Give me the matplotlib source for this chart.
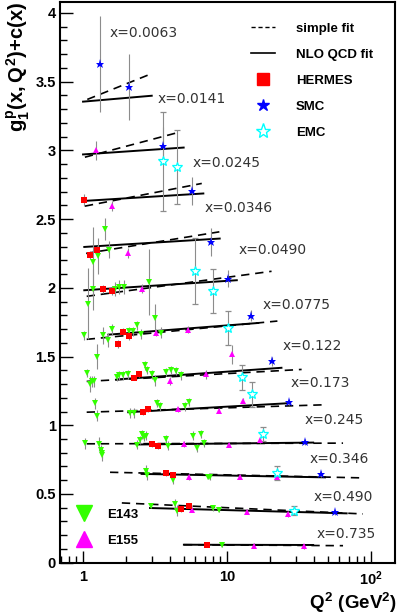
import numpy as np
import matplotlib
matplotlib.use("Agg")
import matplotlib.pyplot as plt
from matplotlib.lines import Line2D
from matplotlib.ticker import MultipleLocator, LogLocator, NullFormatter

plt.rcParams['font.family'] = ['Liberation Sans', 'DejaVu Sans']
plt.rcParams['mathtext.fontset'] = 'custom'
plt.rcParams['mathtext.rm'] = 'Liberation Sans:bold'
plt.rcParams['mathtext.it'] = 'Liberation Sans:bold'
plt.rcParams['mathtext.bf'] = 'Liberation Sans:bold'

# x bins (labels) and the two fits, one line per bin: Q2 range and g1+c at both ends
x_labels = ["x=0.0063", "x=0.0141", "x=0.0245", "x=0.0346", "x=0.0490", "x=0.0775",
            "x=0.122", "x=0.173", "x=0.245", "x=0.346", "x=0.490", "x=0.735"]

nlo_q2_lo = [1.0, 1.0, 1.02, 1.02, 1.02, 1.5, 1.71, 2.06, 2.36, 2.55, 2.92, 5.02]
nlo_q2_hi = [3.0, 5.0, 6.85, 8.9, 11.7, 16.5, 23.9, 27.4, 39.7, 48.0, 67.8, 39.7]
nlo_y_lo = [3.354, 2.97, 2.632, 2.297, 1.982, 1.659, 1.333, 1.095, 0.860, 0.646, 0.398, 0.131]
nlo_y_hi = [3.397, 3.02, 2.686, 2.358, 2.055, 1.744, 1.418, 1.161, 0.874, 0.621, 0.359, 0.129]

simple_q2_lo = [1.07, 1.03, 1.03, 1.05, 1.06, 1.06, 1.06, 1.06, 1.06, 1.54, 1.86, 5.02]
simple_q2_hi = [2.87, 4.59, 6.68, 8.85, 20.4, 22.4, 33.0, 48.0, 64.0, 88.0, 88.0, 64.0]
simple_y_lo = [3.37, 2.95, 2.594, 2.25, 1.938, 1.625, 1.319, 1.095, 0.865, 0.658, 0.435, 0.131]
simple_y_hi = [3.55, 3.13, 2.759, 2.407, 2.12, 1.758, 1.406, 1.149, 0.870, 0.617, 0.355, 0.124]

# data points per experiment: Q2, g1+c, error
hermes_q2 = [1.02, 1.12, 1.245, 1.38, 1.58, 1.74, 1.91, 2.10, 2.26, 2.44, 2.62, 2.81,
             3.03, 3.33, 3.75, 4.24, 4.77, 5.47, 7.3]
hermes_y = [2.64, 2.237, 2.273, 1.99, 1.98, 1.59, 1.678, 1.647, 1.346, 1.37, 1.095, 1.12,
            0.865, 0.848, 0.653, 0.641, 0.391, 0.415, 0.131]
hermes_err = [0.045, 0.03, 0.03, 0.03, 0.03, 0.03, 0.03, 0.03, 0.02, 0.02, 0.02, 0.02,
              0.02, 0.02, 0.02, 0.02, 0.02, 0.02, 0.02]

smc_q2 = [1.31, 2.10, 3.61, 5.69, 7.75, 10.2, 14.7, 20.7, 27.0, 34.6, 44.8, 56.0]
smc_y = [3.63, 3.46, 3.03, 2.705, 2.334, 2.067, 1.795, 1.465, 1.168, 0.877, 0.646, 0.367]
smc_err = [0.35, 0.24, 0.14, 0.10, 0.10, 0.06, 0.04, 0.035, 0.02, 0.02, 0.02, 0.02]

emc_q2 = [3.6, 4.48, 6.0, 7.95, 10.1, 12.8, 15.0, 17.7, 22.2, 29.3]
emc_y = [2.92, 2.876, 2.12, 1.977, 1.707, 1.35, 1.224, 0.938, 0.651, 0.379]
emc_err = [0.36, 0.27, 0.24, 0.16, 0.125, 0.09, 0.09, 0.05, 0.05, 0.03]

e155_q2 = [1.23, 1.58, 2.06, 2.55, 3.21, 5.33, 10.9, 4.02, 7.1, 4.59, 8.85, 13.0,
           5.05, 10.4, 16.9, 5.47, 12.4, 22.4, 5.69, 13.8, 26.4, 15.4, 34.2]
e155_y = [3.00, 2.594, 2.253, 1.994, 1.674, 1.695, 1.515, 1.321, 1.37, 1.115, 1.107, 1.18,
          0.865, 0.86, 0.894, 0.622, 0.627, 0.627, 0.386, 0.372, 0.355, 0.124, 0.119]
e155_err = [0.07, 0.035, 0.035, 0.035, 0.025, 0.025, 0.07, 0.03, 0.03, 0.02, 0.02, 0.02,
            0.02, 0.02, 0.02, 0.02, 0.02, 0.02, 0.02, 0.02, 0.02, 0.02, 0.02]

e143_q2 = [1.18, 1.28, 1.42, 1.52,
           1.08, 1.17, 1.67, 1.79, 1.93, 2.89,
           1.02, 1.26, 1.37, 1.48, 1.60, 2.09, 2.21, 2.38, 2.53, 3.17, 3.46,
           1.07, 1.12, 1.16, 1.20, 1.71, 1.79, 1.91, 2.04, 2.70, 2.80, 3.0, 3.16, 3.77, 4.08, 4.42, 4.77,
           1.22, 1.26, 2.12, 2.26, 3.28, 3.43, 5.11, 5.47,
           1.03, 1.30, 1.33, 1.35, 1.36, 2.38, 2.49, 2.55, 2.65, 2.74, 3.77, 3.91, 5.83, 6.22, 6.56, 6.93,
           2.75, 2.80, 4.19, 7.43, 7.6,
           2.95, 4.35, 4.51, 8.03, 8.85,
           9.3]
e143_y = [2.19, 2.23, 2.43, 2.278,
          1.885, 1.99, 1.99, 2.006, 2.006, 2.04,
          1.654, 1.50, 1.654, 1.62, 1.70, 1.683, 1.683, 1.727, 1.666, 1.783, 1.674,
          1.38, 1.30, 1.32, 1.32, 1.35, 1.362, 1.362, 1.37, 1.435, 1.404, 1.37, 1.326, 1.387, 1.40, 1.394, 1.362,
          1.16, 1.07, 1.088, 1.088, 1.161, 1.137, 1.137, 1.168,
          0.869, 0.865, 0.82, 0.80, 0.78, 0.86, 0.894, 0.933, 0.913, 0.925, 0.901, 0.852, 0.925, 0.833, 0.938, 0.869,
          0.67, 0.64, 0.603, 0.627, 0.622,
          0.415, 0.427, 0.379, 0.398, 0.386,
          0.131]
e143_err = [0.25, 0.13, 0.08, 0.06,
            0.26, 0.15, 0.05, 0.05, 0.05, 0.24,
            0.035, 0.09, 0.06, 0.05, 0.04, 0.035, 0.035, 0.035, 0.035, 0.10, 0.04,
            0.03, 0.06, 0.04, 0.04, 0.03, 0.03, 0.03, 0.03, 0.03, 0.03, 0.03, 0.04, 0.03, 0.03, 0.03, 0.03,
            0.04, 0.04, 0.035, 0.035, 0.03, 0.03, 0.03, 0.03,
            0.04, 0.05, 0.04, 0.04, 0.04, 0.03, 0.03, 0.03, 0.03, 0.03, 0.03, 0.03, 0.03, 0.03, 0.03, 0.03,
            0.04, 0.04, 0.03, 0.02, 0.02,
            0.02, 0.04, 0.04, 0.02, 0.02,
            0.02]

# where the x= labels sit (Q2, y)
label_q2 = [1.52, 3.30, 5.8, 7.04, 11.96, 17.8, 24.5, 27.8, 34.7, 37.7, 39.7, 41.8]
label_y = [3.85, 3.37, 2.91, 2.58, 2.278, 1.878, 1.58, 1.306, 1.035, 0.755, 0.476, 0.209]

fig = plt.figure(figsize=(3.99, 6.15), dpi=100)
ax = fig.add_axes([0.150, 0.085, 0.840, 0.912])
ax.set_xscale('log')
ax.set_xlim(0.69, 147)
ax.set_ylim(0, 4.08)

# fit lines
for i in range(len(x_labels)):
    ax.plot([simple_q2_lo[i], simple_q2_hi[i]], [simple_y_lo[i], simple_y_hi[i]],
            color='black', linestyle=(0, (5, 3.5)), linewidth=1.2, zorder=2)
    ax.plot([nlo_q2_lo[i], nlo_q2_hi[i]], [nlo_y_lo[i], nlo_y_hi[i]],
            color='black', linestyle='-', linewidth=1.4, zorder=2)
    ax.text(label_q2[i], label_y[i], x_labels[i], fontsize=10, color='#333333',
            family='DejaVu Sans', va='center', ha='left')

eb = dict(ecolor='#8c8c8c', elinewidth=0.8, capsize=2.5, capthick=0.8, linestyle='none', zorder=3)
ax.errorbar(e143_q2, e143_y, yerr=e143_err, fmt='v', color='#33ff00', ms=4.6, mew=0, **eb)
ax.errorbar(e155_q2, e155_y, yerr=e155_err, fmt='^', color='#ff00ff', ms=4.6, mew=0, **eb)
ax.errorbar(hermes_q2, hermes_y, yerr=hermes_err, fmt='s', color='#ff0000', ms=4.4, mew=0, **eb)
ax.errorbar(emc_q2, emc_y, yerr=emc_err, fmt='*', color='#00ffff', mfc='white', ms=7.5, mew=0.9, **eb)
ax.errorbar(smc_q2, smc_y, yerr=smc_err, fmt='*', color='#0000ff', ms=6.5, mew=0, **eb)

# legends
h1 = [Line2D([], [], color='black', linestyle=(0, (3, 2)), linewidth=1.0),
      Line2D([], [], color='black', linestyle='-', linewidth=1.2),
      Line2D([], [], color='#ff0000', marker='s', ms=8, linestyle='none'),
      Line2D([], [], color='#0000ff', marker='*', ms=9, linestyle='none'),
      Line2D([], [], color='#00ffff', marker='*', mfc='white', ms=11, mew=1.0, linestyle='none')]
leg1 = ax.legend(h1, ["simple fit", "NLO QCD fit", "HERMES", "SMC", "EMC"], loc='upper left',
                 bbox_to_anchor=(0.55, 0.975), frameon=False, handlelength=1.8, handletextpad=1.6,
                 labelspacing=1.05, borderpad=0, prop={'weight': 'bold', 'size': 9.5})
ax.add_artist(leg1)

h2 = [Line2D([], [], color='#33ff00', marker='v', ms=11, linestyle='none'),
      Line2D([], [], color='#ff00ff', marker='^', ms=11, linestyle='none')]
ax.legend(h2, ["E143", "E155"], loc='upper left', bbox_to_anchor=(0.02, 0.108), frameon=False,
          handlelength=1.6, handletextpad=1.0, labelspacing=1.05, borderpad=0,
          prop={'weight': 'bold', 'size': 9.5})

# axes styling
for s in ax.spines.values():
    s.set_linewidth(1.5)
ax.yaxis.set_major_locator(MultipleLocator(0.5))
ax.yaxis.set_minor_locator(MultipleLocator(0.1))
ax.set_yticks([0, 0.5, 1, 1.5, 2, 2.5, 3, 3.5, 4])
ax.set_yticklabels(['0', '0.5', '1', '1.5', '2', '2.5', '3', '3.5', '4'])
ax.set_xticks([1, 10, 100])
ax.set_xticklabels(['1', '10', r'$10^2$'])
ax.xaxis.set_minor_locator(LogLocator(base=10, subs=np.arange(2, 10)))
ax.xaxis.set_minor_formatter(NullFormatter())
ax.tick_params(which='major', direction='in', length=9, width=1.0, labelsize=10.5)
ax.tick_params(which='minor', direction='in', length=5, width=1.0)
ax.tick_params(axis='x', which='major', pad=5)
ax.tick_params(axis='y', which='major', pad=3)
for lab in ax.get_xticklabels() + ax.get_yticklabels():
    lab.set_fontweight('bold')

fig.text(0.995, 0.0, r'$Q^2$ (GeV$^2$)', ha='right', va='bottom', fontsize=13.5, fontweight='bold')
fig.text(0.045, 0.997, r'$g_1^p(x,Q^2)$+c(x)', ha='center', va='top', rotation=90,
         fontsize=14.5, fontweight='bold')

fig.savefig('out.png', dpi=100)
